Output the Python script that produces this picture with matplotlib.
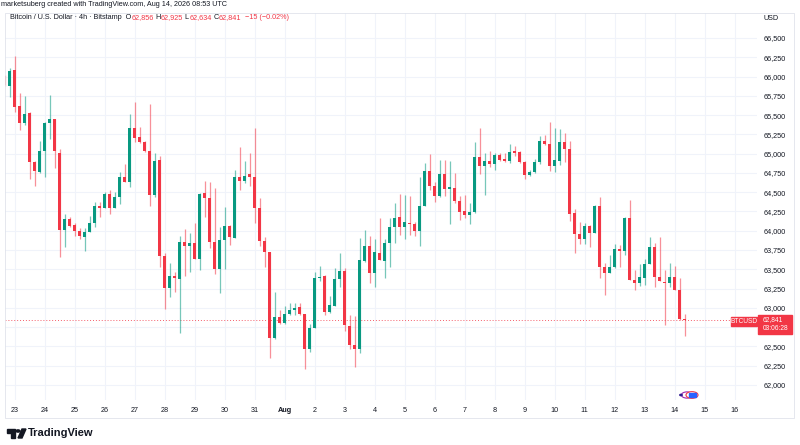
import numpy as np
import matplotlib
matplotlib.use("Agg")
import matplotlib.pyplot as plt
from matplotlib.patches import Rectangle, Circle, Polygon

plt.rcParams["font.family"] = ["Liberation Sans", "DejaVu Sans"]

# 4h candles, Jul 22 16:00 -> Aug 14 08:00 (Bitstamp BTC/USD)
opens = [66007, 65878, 66085, 65618, 65398, 65527, 64892, 64762, 65035, 65398,
         65450, 65009, 64010, 64153, 64075, 63997, 63919, 63984, 64101, 64321,
         64295, 64477, 64295, 64438, 64697, 64632, 65333, 65216, 65151, 65035,
         64464, 64918, 63673, 63258, 63413, 63374, 63854, 63802, 63841, 63634,
         64490, 64425, 63854, 63504, 63880, 64062, 63906, 64697, 64645, 64736,
         64697, 64295, 63867, 63725, 62609, 62882, 62804, 62920, 62972, 63011,
         62920, 62466, 62739, 63387, 63413, 62946, 63024, 63374, 63478, 62765,
         62518, 62466, 63608, 63802, 63452, 63712, 63608, 63841, 64049, 64179,
         64049, 64101, 64088, 63997, 64321, 64775, 64581, 64451, 64736, 64542,
         64555, 64386, 64256, 64204, 64243, 64957, 64840, 64905, 64866, 64983,
         64931, 64905, 65035, 65022, 64892, 64723, 64762, 64892, 65164, 65125,
         64840, 64905, 65151, 65060, 64230, 63958, 63893, 64062, 63971, 64321,
         63530, 63452, 63530, 63763, 63738, 64166, 63361, 63322, 63387, 63569,
         63789, 63400, 63335, 63322, 63400, 63232, 62856]
highs = [66020, 66111, 66267, 65787, 65748, 65540, 64900, 65164, 65405, 65761,
         65455, 65061, 64217, 64179, 64101, 64036, 64036, 64191, 64373, 64373,
         64503, 64529, 64503, 64762, 64866, 65514, 65670, 65346, 65164, 65644,
         65009, 64970, 63712, 63582, 63465, 63932, 64023, 63971, 64101, 64490,
         64645, 64632, 64555, 64049, 64308, 64075, 64788, 65086, 64905, 65009,
         65333, 64425, 63919, 63730, 63206, 62972, 63024, 63063, 63063, 63063,
         62925, 62791, 63465, 63543, 63420, 63154, 63517, 63712, 63517, 62907,
         62894, 63907, 64010, 63932, 63893, 64166, 63893, 64166, 64360, 64477,
         64464, 64451, 64114, 64697, 64879, 64996, 64632, 64918, 64918, 64905,
         64749, 64451, 64464, 64360, 65151, 65333, 65009, 65035, 65009, 65009,
         65009, 65125, 65099, 65040, 64905, 64788, 64931, 65229, 65242, 65411,
         65333, 65320, 65268, 65164, 64282, 64114, 64101, 64075, 64334, 64438,
         63582, 63686, 63828, 63815, 64179, 64399, 63491, 63569, 63634, 63919,
         63841, 63919, 63491, 63582, 63543, 63387, 62925]
lows = [65878, 65735, 65540, 65307, 65372, 64671, 64581, 64755, 64697, 65190,
        64814, 63660, 63789, 64049, 63932, 63893, 63738, 63980, 64049, 64179,
        64290, 64217, 64290, 64347, 64628, 64568, 65151, 65138, 65022, 64321,
        64438, 63530, 62985, 63141, 63206, 62674, 63413, 63465, 63630, 63491,
        64179, 63777, 63439, 63193, 63504, 63815, 63900, 64529, 64619, 64581,
        64101, 63802, 63530, 62350, 62600, 62791, 62791, 62907, 62907, 62907,
        62207, 62428, 62735, 63348, 62907, 62933, 63020, 63271, 62700, 62466,
        62233, 62415, 63600, 63322, 63271, 63615, 63387, 63530, 63841, 63945,
        63893, 63945, 63932, 63802, 64315, 64529, 64373, 64438, 64451, 64088,
        64360, 64140, 64166, 64088, 64230, 64736, 64464, 64827, 64788, 64905,
        64892, 64879, 64970, 64879, 64671, 64710, 64749, 64866, 65112, 64775,
        64762, 64853, 64892, 64127, 63712, 63828, 63828, 63789, 63965, 63387,
        63167, 63448, 63517, 63530, 63686, 63355, 63232, 63284, 63297, 63565,
        63271, 63343, 62778, 63271, 63228, 62838, 62634]
closes = [65891, 66072, 65605, 65398, 65514, 64892, 64775, 65035, 65398, 65450,
          65035, 64010, 64153, 64062, 63997, 63932, 63984, 64101, 64321, 64295,
          64477, 64295, 64438, 64697, 64632, 65333, 65203, 65151, 65035, 64464,
          64905, 63673, 63258, 63413, 63387, 63854, 63802, 63841, 63634, 64477,
          64425, 63854, 63504, 63880, 64062, 63919, 64697, 64645, 64710, 64697,
          64295, 63867, 63725, 62609, 62882, 62804, 62920, 62972, 62998, 62920,
          62466, 62739, 63387, 63400, 62946, 63037, 63374, 63478, 62778, 62518,
          62466, 63621, 63802, 63452, 63725, 63621, 63841, 64049, 64166, 64049,
          64114, 64088, 63997, 64321, 64775, 64581, 64451, 64736, 64542, 64568,
          64386, 64243, 64204, 64243, 64957, 64840, 64905, 64866, 64983, 64918,
          64905, 65022, 65009, 64892, 64723, 64762, 64892, 65164, 65125, 64840,
          64918, 65151, 65060, 64217, 63958, 63893, 64062, 63971, 64321, 63530,
          63452, 63530, 63764, 63738, 64166, 63361, 63322, 63400, 63569, 63789,
          63400, 63348, 63322, 63400, 63232, 62856, 62841]

day_labels = ["23", "24", "25", "26", "27", "28", "29", "30", "31", "Aug",
              "2", "3", "4", "5", "6", "7", "8", "9", "10", "11", "12", "13",
              "14", "15", "16"]
price_ticks = list(range(62000, 66501, 250))

UP = "#089981"
DOWN = "#F23645"
TXT = "#131722"
GRID = "#F0F3FA"
FS = 5.2

o = np.array(opens)
h = np.array(highs)
l = np.array(lows)
c = np.array(closes)
x = np.arange(len(o))
cols = np.where(c >= o, UP, DOWN)
last = c[-1]

fig = plt.figure(figsize=(8, 4.45), dpi=100)
ax = fig.add_axes([5 / 800, 1 - 400 / 445, 752 / 800, 387 / 445])

# grid
day_pos = 2 + 6 * np.arange(len(day_labels))
for d in day_pos:
    ax.axvline(d, color=GRID, lw=0.8, zorder=0)
for p in price_ticks:
    ax.axhline(p, color=GRID, lw=0.8, zorder=0)

# candles: wicks then bodies
ax.vlines(x, l, h, colors=cols, lw=0.9, alpha=0.55, zorder=2)
body = np.maximum(np.abs(c - o), 12)
ax.bar(x, body, bottom=np.minimum(o, c), width=0.7, color=cols, lw=0, zorder=3)

ax.axhline(last, color=DOWN, lw=0.7, ls=(0, (1, 2)), alpha=0.8, zorder=1)

ax.set_xlim(0.06, 150.46)
ax.set_ylim(61805, 66824)
ax.set_xticks(day_pos)
ax.set_xticklabels(day_labels)
for t in ax.get_xticklabels():
    if t.get_text() == "Aug":
        t.set_fontweight("bold")
ax.set_yticks(price_ticks)
# the label under the last-price box is hidden, as on the original
ax.set_yticklabels(["" if abs(p - last) < 120 else f"{p:,}" for p in price_ticks])
ax.yaxis.tick_right()
ax.tick_params(axis="both", length=0, labelsize=FS, colors=TXT)
ax.tick_params(axis="y", pad=5)
ax.tick_params(axis="x", pad=5)
for s in ax.spines.values():
    s.set_visible(False)

# outer frame
fig.patches.append(Rectangle((5 / 800, 1 - 418 / 445), 789 / 800, 405 / 445,
                             transform=fig.transFigure, fill=False,
                             ec="#E0E3EB", lw=0.6))

# header
fig.text(1 / 800, 1 - 4 / 445, "marketsuberg created with TradingView.com, Aug 14, 2026 08:53 UTC",
         fontsize=FS, color=TXT, va="center", ha="left")
fig.text(763 / 800, 1 - 18 / 445, "USD", fontsize=FS, color=TXT, va="center")

# legend line with coloured values
chg = c[-1] - c[-2]
pct = chg / c[-2] * 100
pieces = [(f"{o[-1]:,}", DOWN), (" H", TXT), (f"{h[-1]:,}", DOWN),
          (" L", TXT), (f"{l[-1]:,}", DOWN), (" C", TXT), (f"{c[-1]:,}", DOWN),
          (f"  {chg:+d} ({pct:+.2f}%)".replace("-", "\u2212"), DOWN)]
prev = fig.text(10 / 800, 1 - 17.5 / 445, "Bitcoin / U.S. Dollar · 4h · Bitstamp  O",
                fontsize=FS, color=TXT, va="center", ha="left")
for txt, col in pieces:
    prev = ax.annotate(txt, xy=(1, 0.5), xycoords=prev, va="center", ha="left",
                       fontsize=FS, color=col, annotation_clip=False)

# last price labels
fig.patches.append(Rectangle((731 / 800, 1 - 326 / 445), 26 / 800, 9 / 445,
                             transform=fig.transFigure, color=DOWN))
fig.text(744 / 800, 1 - 321.5 / 445, "BTCUSD", fontsize=4.8, color="white",
         ha="center", va="center")
fig.patches.append(Rectangle((758 / 800, 1 - 334 / 445), 34 / 800, 19 / 445,
                             transform=fig.transFigure, color=DOWN))
fig.text(763 / 800, 1 - 320 / 445, f"{last:,}", fontsize=4.8, color="white",
         ha="left", va="center")
fig.text(763 / 800, 1 - 328.8 / 445, "03:06:28", fontsize=4.8, color="white",
         ha="left", va="center")

# event icon near bottom
fig.patches.append(Circle((687 / 800, 1 - 395 / 445), 0.007, transform=fig.transFigure,
                          fill=False, ec="#9C27B0", lw=0.8))
fig.patches.append(Circle((692 / 800, 1 - 395 / 445), 0.0075, transform=fig.transFigure,
                          fc="white", ec=DOWN, lw=0.8))
fig.patches.append(Rectangle((688.5 / 800, 1 - 397 / 445), 7 / 800, 4 / 445,
                             transform=fig.transFigure, color="#2962FF"))
fig.patches.append(Circle((681 / 800, 1 - 395 / 445), 0.0015, transform=fig.transFigure,
                          color="#311B92"))

# TradingView logo
lx, ly = 7, 433
fig.patches.append(Polygon([[lx / 800, 1 - (ly - 4) / 445], [(lx + 8) / 800, 1 - (ly - 4) / 445],
                            [(lx + 8) / 800, 1 - (ly + 5) / 445], [(lx + 4) / 800, 1 - (ly + 5) / 445],
                            [(lx + 4) / 800, 1 - ly / 445], [lx / 800, 1 - ly / 445]],
                           closed=True, transform=fig.transFigure, color=TXT))
fig.patches.append(Circle(((lx + 11) / 800, 1 - (ly - 2) / 445), 0.0025,
                          transform=fig.transFigure, color=TXT))
fig.patches.append(Polygon([[(lx + 15) / 800, 1 - (ly - 4) / 445], [(lx + 19) / 800, 1 - (ly - 4) / 445],
                            [(lx + 15) / 800, 1 - (ly + 5) / 445], [(lx + 11) / 800, 1 - (ly + 5) / 445]],
                           closed=True, transform=fig.transFigure, color=TXT))
fig.text(28 / 800, 1 - 433 / 445, "TradingView", fontsize=8, fontweight="bold",
         color=TXT, va="center", ha="left")

fig.savefig("out.png", dpi=100)
